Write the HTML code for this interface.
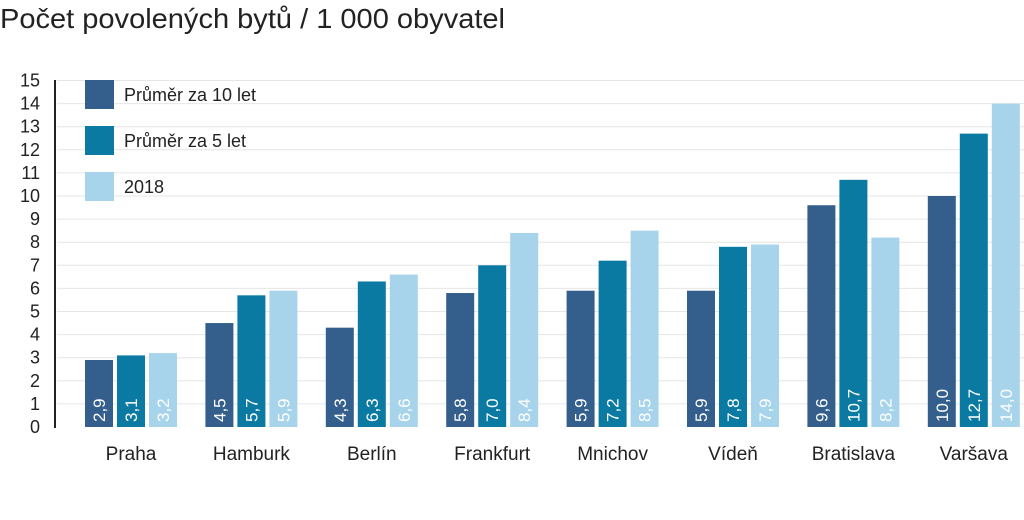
<!DOCTYPE html>
<html><head><meta charset="utf-8"><style>
body{margin:0;background:#fff;}
svg{display:block;font-family:"Liberation Sans",sans-serif;}
</style></head><body>
<svg width="1024" height="520">
<text x="0" y="28" font-size="28" fill="#222" textLength="505" lengthAdjust="spacingAndGlyphs">Počet povolených bytů / 1 000 obyvatel</text>
<g id="grid"></g><g id="bars"></g><g id="axis"></g>
<g>
<rect x="85" y="80" width="29" height="29" fill="#345f8c"/>
<text x="124" y="101" font-size="18" fill="#222">Průměr za 10 let</text>
<rect x="85" y="126" width="29" height="29" fill="#0a7aa3"/>
<text x="124" y="147" font-size="18" fill="#222">Průměr za 5 let</text>
<rect x="85" y="172" width="29" height="29" fill="#a8d4eb"/>
<text x="124" y="193" font-size="18" fill="#222">2018</text>
</g>
</svg>
<script>
const categories=["Praha","Hamburk","Berlín","Frankfurt","Mnichov","Vídeň","Bratislava","Varšava"];
const avg10=[2.9,4.5,4.3,5.8,5.9,5.9,9.6,10.0];
const avg5=[3.1,5.7,6.3,7.0,7.2,7.8,10.7,12.7];
const y2018=[3.2,5.9,6.6,8.4,8.5,7.9,8.2,14.0];
const yTicks=[0,1,2,3,4,5,6,7,8,9,10,11,12,13,14,15];
const NS="http://www.w3.org/2000/svg";
const y0=427,unit=23.1;
const yS=v=>y0-v*unit;
const xS=i=>85+i*120.4;
function mk(tag,attrs,parent,txt){const e=document.createElementNS(NS,tag);for(const k in attrs)e.setAttribute(k,attrs[k]);if(txt!==undefined)e.textContent=txt;document.getElementById(parent).appendChild(e);return e;}
yTicks.forEach(t=>{
 if(t>0){const l=mk('line',{x1:57,x2:1024,y1:yS(t),y2:yS(t),stroke:'#e6e6e6','stroke-width':1},'grid');
 
 }
 const tx=mk('text',{x:40,y:yS(t)+6,'font-size':18,'text-anchor':'end',fill:'#222'},'axis',String(t));
 
 
});
const ax=mk('line',{x1:55,x2:55,y1:80,y2:428,stroke:'#222','stroke-width':2},'axis');


const series=[[avg10,'#345f8c','avg10'],[avg5,'#0a7aa3','avg5'],[y2018,'#a8d4eb','y2018']];
categories.forEach((c,i)=>{
 series.forEach(([arr,col,nm],j)=>{
  const v=arr[i];const x=xS(i)+j*32;
  const r=mk('rect',{x:x,y:yS(v),width:28,height:v*unit,fill:col},'bars');
  
  
  const lx=x+20,ly=y0-5;
  const t=mk('text',{x:lx,y:ly,'font-size':17,fill:'#fff',transform:`rotate(-90 ${lx} ${ly})`},'bars',v.toFixed(1).replace('.',','));
  
  
 });
 const cl=mk('text',{x:xS(i)+46,y:460,'font-size':19,'text-anchor':'middle',fill:'#222'},'axis',c);
 
 
});
</script>
</body></html>
